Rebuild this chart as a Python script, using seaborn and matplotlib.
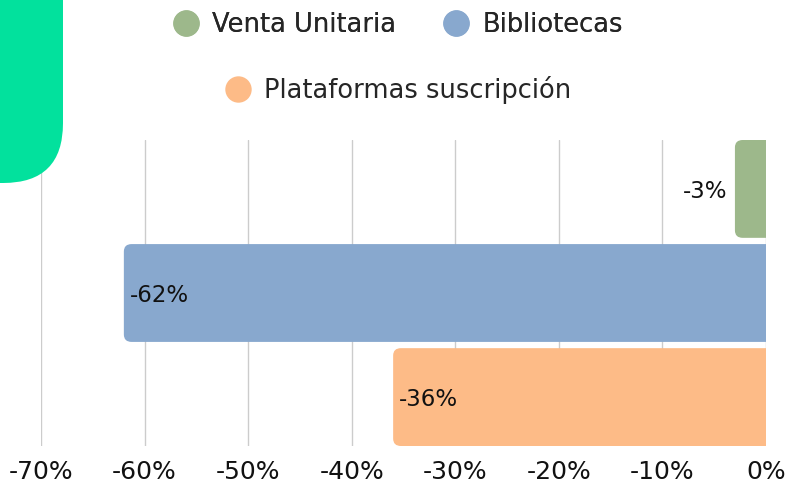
import matplotlib.pyplot as plt
import seaborn as sns
from matplotlib.patches import FancyBboxPatch
from matplotlib.lines import Line2D
from matplotlib.ticker import FuncFormatter, MultipleLocator

# Datos
categorias = ["Venta Unitaria", "Bibliotecas", "Plataformas suscripción"]
valores = [-3, -62, -36]
colores = ["#9DB88B", "#88A8CE", "#FDBB87"]
etiquetas = ["-3%", "-62%", "-36%"]

sns.set_style("white")
plt.rcParams["font.family"] = ["DejaVu Sans"]

fig = plt.figure(figsize=(7.87, 4.83), dpi=100)
ax = fig.add_axes([41 / 787, 1 - 446 / 483, 725 / 787, 306 / 483])

sns.barplot(x=valores, y=categorias, hue=categorias, palette=colores,
            saturation=1, width=0.94, legend=False, ax=ax, zorder=2)

# bordes redondeados
for p in list(ax.patches):
    x0, y0, w, h = p.get_x(), p.get_y(), p.get_width(), p.get_height()
    left = min(x0, x0 + w)
    fb = FancyBboxPatch((left, y0), abs(w) + 2, h,
                        boxstyle="round,pad=0,rounding_size=0.75",
                        mutation_aspect=0.095,
                        facecolor=p.get_facecolor(), edgecolor="none", zorder=2)
    p.remove()
    ax.add_patch(fb)

ax.set_xlim(-70, 0)
ax.set_ylim(2.47, -0.47)
ax.xaxis.set_major_locator(MultipleLocator(10))
ax.xaxis.set_major_formatter(FuncFormatter(lambda v, pos: f"{int(round(v))}%"))
ax.grid(axis="x", color="#cccccc", linewidth=1, zorder=0)
ax.grid(axis="y", visible=False)
ax.set_yticks([])
ax.set_ylabel("")
ax.tick_params(axis="x", length=0, pad=10, labelsize=18, labelcolor="#111111")
for s in ax.spines.values():
    s.set_visible(False)

# etiquetas de valor
for i, (v, t) in enumerate(zip(valores, etiquetas)):
    if v > -10:
        ax.text(v - 0.7, i + 0.02, t, ha="right", va="center", fontsize=16.5, color="#111111")
    else:
        ax.text(v + 0.6, i + 0.02, t, ha="left", va="center", fontsize=16.5, color="#111111")

# leyenda
def handle(c):
    return Line2D([], [], marker="o", linestyle="none", markersize=19,
                  markerfacecolor=c, markeredgecolor="none")

leg1 = fig.legend([handle(colores[0]), handle(colores[1])], categorias[:2],
                  loc="center", bbox_to_anchor=(398 / 787, 1 - 25 / 483),
                  ncol=2, frameon=False, fontsize=18.5, handletextpad=0.5,
                  columnspacing=1.85, handlelength=1.0)
leg2 = fig.legend([handle(colores[2])], categorias[2:],
                  loc="center", bbox_to_anchor=(398 / 787, 1 - 90 / 483),
                  frameon=False, fontsize=18.5, handletextpad=0.5, handlelength=1.0)
fig.add_artist(leg1)

# forma decorativa
deco = FancyBboxPatch((-0.2, 1 - 183 / 483), 0.2 + 63 / 787, 0.6,
                      boxstyle="round,pad=0,rounding_size=0.076",
                      mutation_aspect=787 / 483,
                      transform=fig.transFigure, facecolor="#02E19D",
                      edgecolor="none", clip_on=False)
fig.add_artist(deco)

fig.savefig("out.png", dpi=100)
